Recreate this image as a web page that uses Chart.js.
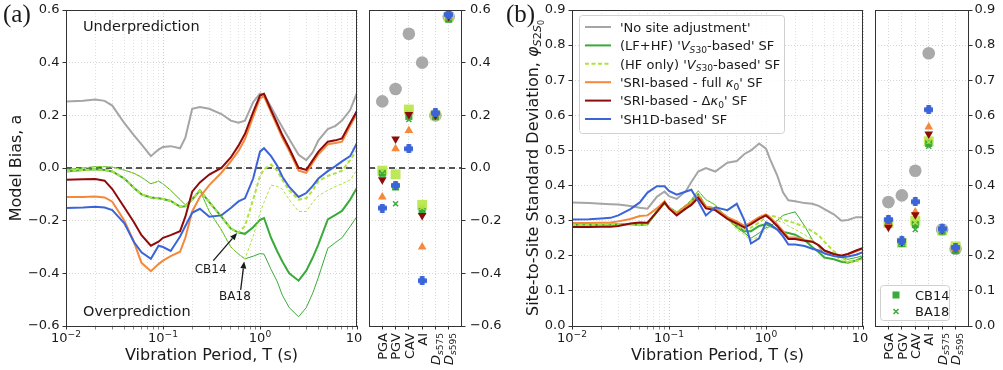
<!DOCTYPE html>
<html>
<head>
<meta charset="utf-8">
<script src="https://cdn.jsdelivr.net/npm/chart.js@4.4.1/dist/chart.umd.min.js"></script>
<style>
  html, body { margin: 0; padding: 0; background: #fff; }
  #wrap { position: relative; width: 1003px; height: 370px; overflow: hidden; }
  canvas { position: absolute; top: 0; }
</style>
</head>
<body>
<div id="wrap">
  <canvas id="biasChart" width="362" height="370" style="left:0px"></canvas>
  <canvas id="biasImChart" width="141" height="370" style="left:362px"></canvas>
  <canvas id="phiChart" width="365" height="370" style="left:503px"></canvas>
  <canvas id="phiImChart" width="135" height="370" style="left:868px"></canvas>
</div>
<script>
const FONT = '"DejaVu Sans", sans-serif';
Chart.defaults.font.family = FONT;
Chart.defaults.font.size = 13;
Chart.defaults.color = '#1a1a1a';
Chart.defaults.animation = false;

// Vibration periods (s)
const periods = [
  0.01, 0.015, 0.02, 0.025, 0.03, 0.04, 0.05, 0.06, 0.075, 0.09,
  0.1, 0.12, 0.15, 0.17, 0.2, 0.24, 0.3, 0.4, 0.5, 0.6,
  0.7, 0.85, 1.0, 1.1, 1.3, 1.5, 1.7, 2.0, 2.5, 3.0,
  3.5, 4.0, 5.0, 6.0, 7.0, 8.5, 10
];

// (a) model bias
const biasNoSite = [
  0.253, 0.255, 0.26, 0.255, 0.237, 0.17, 0.125, 0.09, 0.045, 0.07,
  0.08, 0.083, 0.075, 0.115, 0.225, 0.232, 0.225, 0.205, 0.18, 0.172,
  0.18, 0.25, 0.283, 0.28, 0.232, 0.19, 0.155, 0.11, 0.05, 0.03,
  0.06, 0.105, 0.148, 0.16, 0.18, 0.22, 0.285
];
const biasLfHfCB14 = [
  -0.013, -0.008, -0.005, -0.008, -0.013, -0.04, -0.075, -0.1, -0.112, -0.115,
  -0.118, -0.125, -0.147, -0.145, -0.12, -0.085, -0.13, -0.185, -0.23, -0.245,
  -0.25, -0.225, -0.197, -0.19, -0.265, -0.315, -0.355, -0.4, -0.428, -0.39,
  -0.34, -0.29, -0.195, -0.178, -0.163, -0.12, -0.075
];
const biasLfHfBA18 = [
  -0.006, 0.0, 0.005, 0.005, 0.003, -0.008, -0.02, -0.035, -0.06, -0.05,
  -0.06, -0.085, -0.12, -0.14, -0.115, -0.085, -0.165, -0.235, -0.3, -0.327,
  -0.345, -0.335, -0.325, -0.327, -0.385, -0.43, -0.483, -0.53, -0.565, -0.53,
  -0.475, -0.415, -0.305, -0.283, -0.265, -0.222, -0.184
];
const biasHfCB14 = [
  -0.013, -0.008, -0.005, -0.008, -0.013, -0.04, -0.075, -0.1, -0.112, -0.115,
  -0.118, -0.125, -0.147, -0.145, -0.12, -0.085, -0.13, -0.185, -0.23, -0.245,
  -0.22, -0.12, -0.03, -0.005, 0.013, -0.01, -0.045, -0.085, -0.12, -0.115,
  -0.085, -0.05, -0.03, -0.02, -0.01, 0.03, 0.07
];
const biasHfBA18 = [
  -0.006, 0.0, 0.005, 0.005, 0.003, -0.008, -0.02, -0.035, -0.06, -0.05,
  -0.06, -0.085, -0.12, -0.14, -0.115, -0.085, -0.165, -0.235, -0.3, -0.327,
  -0.345, -0.26, -0.17, -0.13, -0.065, -0.07, -0.08, -0.12, -0.165, -0.165,
  -0.13, -0.105, -0.085, -0.07, -0.06, -0.045, -0.007
];
const biasSriFull = [
  -0.11, -0.11, -0.108, -0.112, -0.128, -0.2, -0.28, -0.36, -0.392, -0.365,
  -0.352, -0.335, -0.318, -0.265, -0.165, -0.11, -0.065, -0.018, 0.025, 0.065,
  0.11, 0.195, 0.265, 0.272, 0.212, 0.16, 0.115, 0.065, -0.01, -0.018,
  0.02, 0.052, 0.09, 0.095, 0.1, 0.16, 0.207
];
const biasSriDk = [
  -0.045, -0.043, -0.042, -0.048, -0.08, -0.15, -0.205, -0.255, -0.295, -0.28,
  -0.265, -0.255, -0.24, -0.185, -0.09, -0.055, -0.025, 0.0, 0.04, 0.085,
  0.13, 0.212, 0.275, 0.282, 0.22, 0.17, 0.125, 0.075, 0.0, -0.007,
  0.03, 0.062, 0.1, 0.105, 0.112, 0.17, 0.217
];
const biasSh1d = [
  -0.152, -0.15, -0.147, -0.15, -0.16, -0.21, -0.28, -0.32, -0.345, -0.295,
  -0.3, -0.315, -0.26, -0.22, -0.17, -0.155, -0.185, -0.18, -0.152, -0.127,
  -0.115, -0.04, 0.062, 0.075, 0.045, 0.01, -0.033, -0.072, -0.11, -0.095,
  -0.068, -0.04, -0.012, 0.007, 0.025, 0.045, 0.095
];

// (b) site-to-site standard deviation
const phiNoSite = [
  0.352, 0.35, 0.348, 0.347, 0.346, 0.342, 0.337, 0.334, 0.368, 0.383,
  0.37, 0.362, 0.385, 0.41, 0.44, 0.45, 0.44, 0.465, 0.47, 0.49,
  0.5, 0.52, 0.505, 0.475, 0.43, 0.38, 0.358, 0.355, 0.35, 0.348,
  0.342, 0.333, 0.318, 0.3, 0.302, 0.31, 0.31
];
const phiLfHfCB14 = [
  0.288, 0.288, 0.288, 0.289, 0.29, 0.29, 0.288, 0.29, 0.325, 0.35,
  0.335, 0.318, 0.34, 0.355, 0.375, 0.34, 0.335, 0.31, 0.285, 0.27,
  0.27, 0.285, 0.29, 0.285, 0.275, 0.268, 0.265, 0.26, 0.245, 0.225,
  0.21, 0.195, 0.19, 0.183, 0.18, 0.187, 0.195
];
const phiLfHfBA18 = [
  0.287, 0.287, 0.287, 0.288, 0.29, 0.29, 0.29, 0.292, 0.33, 0.352,
  0.34, 0.325, 0.345, 0.36, 0.385, 0.36, 0.345, 0.305, 0.28, 0.265,
  0.25, 0.265, 0.28, 0.283, 0.3, 0.315, 0.32, 0.325, 0.285, 0.246,
  0.225, 0.205, 0.2, 0.195, 0.19, 0.195, 0.2
];
const phiHfCB14 = [
  0.288, 0.288, 0.288, 0.289, 0.29, 0.29, 0.288, 0.29, 0.325, 0.35,
  0.335, 0.318, 0.34, 0.355, 0.375, 0.34, 0.335, 0.31, 0.285, 0.275,
  0.28, 0.295, 0.31, 0.315, 0.31, 0.303, 0.298, 0.293, 0.282, 0.27,
  0.258, 0.24, 0.213, 0.195, 0.184, 0.185, 0.19
];
const phiHfBA18 = [
  0.287, 0.287, 0.287, 0.288, 0.29, 0.29, 0.29, 0.292, 0.33, 0.352,
  0.34, 0.325, 0.345, 0.36, 0.385, 0.36, 0.345, 0.305, 0.275, 0.26,
  0.245, 0.255, 0.275, 0.285, 0.3, 0.295, 0.285, 0.275, 0.26, 0.245,
  0.23, 0.215, 0.2, 0.187, 0.18, 0.183, 0.19
];
const phiSriFull = [
  0.293, 0.293, 0.294, 0.295, 0.298, 0.305, 0.313, 0.315, 0.335, 0.355,
  0.335, 0.32, 0.343, 0.35, 0.37, 0.34, 0.335, 0.31, 0.298, 0.285,
  0.295, 0.31, 0.318, 0.31, 0.29, 0.27, 0.252, 0.252, 0.245, 0.24,
  0.23, 0.215, 0.205, 0.2, 0.205, 0.213, 0.22
];
const phiSriDk = [
  0.282, 0.282, 0.283, 0.283, 0.285, 0.292, 0.295, 0.294, 0.325, 0.352,
  0.335, 0.315, 0.335, 0.345, 0.365, 0.335, 0.33, 0.305, 0.292, 0.28,
  0.29, 0.305, 0.315, 0.305, 0.285, 0.265, 0.248, 0.248, 0.243, 0.24,
  0.23, 0.215, 0.205, 0.2, 0.205, 0.215, 0.222
];
const phiSh1d = [
  0.303, 0.304, 0.306, 0.308, 0.315, 0.333, 0.352, 0.38, 0.398, 0.398,
  0.385, 0.374, 0.383, 0.388, 0.355, 0.315, 0.338, 0.33, 0.348, 0.3,
  0.235, 0.25, 0.295, 0.29, 0.275, 0.255, 0.232, 0.232, 0.228, 0.22,
  0.215, 0.207, 0.199, 0.196, 0.198, 0.203, 0.21
];

// Intensity measures (side panels)
const imNames = ['PGA', 'PGV', 'CAV', 'AI', 'Ds575', 'Ds595'];
const imBiasNoSite   = [0.253, 0.30, 0.51, 0.40, 0.2, 0.575];
const imBiasLfHfCB14 = [-0.02, -0.072, 0.196, -0.165, 0.196, 0.565];
const imBiasLfHfBA18 = [-0.022, -0.136, 0.184, -0.17, 0.198, 0.567];
const imBiasHfCB14   = [-0.01, -0.024, 0.222, -0.14, 0.2, 0.574];
const imBiasHfBA18   = [-0.012, -0.07, 0.21, -0.15, 0.2, 0.574];
const imBiasSriFull  = [-0.11, 0.073, 0.142, -0.30, 0.205, 0.572];
const imBiasSriDk    = [-0.045, 0.11, 0.203, -0.18, 0.2, 0.575];
const imBiasSh1d     = [-0.152, -0.066, 0.073, -0.428, 0.209, 0.583];

const imPhiNoSite   = [0.353, 0.372, 0.442, 0.777, 0.275, 0.22];
const imPhiLfHfCB14 = [0.29, 0.235, 0.289, 0.52, 0.27, 0.215];
const imPhiLfHfBA18 = [0.29, 0.237, 0.275, 0.512, 0.272, 0.217];
const imPhiHfCB14   = [0.294, 0.237, 0.3, 0.526, 0.272, 0.227];
const imPhiHfBA18   = [0.293, 0.236, 0.295, 0.524, 0.272, 0.225];
const imPhiSriFull  = [0.29, 0.246, 0.325, 0.567, 0.275, 0.22];
const imPhiSriDk    = [0.281, 0.24, 0.317, 0.547, 0.275, 0.222];
const imPhiSh1d     = [0.303, 0.243, 0.354, 0.616, 0.277, 0.223];

// Axis ticks
const periodTicks = [0.01, 0.1, 1, 10];
const periodTickExp = ['\u22122', '\u22121', '0', '1'];

// Colours
const GREY = '#a5a5a5';
const GREEN = '#3aaa3a';
const LIME = '#aee23c';
const ORANGE = '#f5883a';
const DKRED = '#8e0b0b';
const BLUE = '#3c64d9';
const INK = '#1a1a1a';
const FRAME = '#333333';

// ---------- rich text helpers (italic / subscripts) ----------
function richFont(s, size) {
  const sz = s.sub2 ? size * 0.5 : (s.sub || s.sup) ? size * 0.7 : size;
  return (s.it ? 'italic ' : '') + sz.toFixed(1) + 'px ' + FONT;
}
function richShift(s, size) {
  if (s.sub2) return size * 0.4;
  if (s.sub) return size * 0.2;
  if (s.sup) return -size * 0.42;
  return 0;
}
function richWidth(ctx, segs, size) {
  let w = 0;
  segs.forEach(s => { ctx.font = richFont(s, size); w += ctx.measureText(s.t).width; });
  return w;
}
function drawRich(ctx, segs, x, y, size, align, color) {
  const w = richWidth(ctx, segs, size);
  let cx = align === 'center' ? x - w / 2 : align === 'right' ? x - w : x;
  ctx.fillStyle = color || INK;
  ctx.textAlign = 'left';
  ctx.textBaseline = 'alphabetic';
  segs.forEach(s => {
    ctx.font = richFont(s, size);
    ctx.fillText(s.t, cx, y + richShift(s, size));
    cx += ctx.measureText(s.t).width;
  });
}
function drawRichUp(ctx, segs, x, y, size, align) {
  ctx.save();
  ctx.translate(x, y);
  ctx.rotate(-Math.PI / 2);
  drawRich(ctx, segs, 0, 0, size, align);
  ctx.restore();
}
function imSegs(name) {
  if (name.startsWith('Ds')) {
    return [{ t: 'D', it: 1 }, { t: 's', it: 1, sub: 1 }, { t: name.slice(2), sub: 1 }];
  }
  return [{ t: name }];
}

// ---------- markers ----------
function plusMarker(color, s) {
  const c = document.createElement('canvas');
  c.width = c.height = s;
  const g = c.getContext('2d');
  g.fillStyle = color;
  const a = s * 0.5;
  g.beginPath();
  g.arc(s / 2, s / 2, s * 0.38, 0, Math.PI * 2);
  g.fill();
  g.fillRect((s - a) / 2, 0, a, s);
  g.fillRect(0, (s - a) / 2, s, a);
  return c;
}
const bluePlus = plusMarker(BLUE, 9);

// ---------- datasets ----------
function lineSet(values, color, width, dash) {
  return {
    type: 'line',
    data: periods.map((p, i) => ({ x: p, y: values[i] })),
    borderColor: color,
    borderWidth: width,
    borderDash: dash || [],
    pointRadius: 0,
    tension: 0,
    fill: false
  };
}
function markSet(values, style, color, r, extra) {
  return Object.assign({
    type: 'scatter',
    data: imNames.map((n, i) => ({ x: i, y: values[i] })),
    pointStyle: style,
    pointRadius: r,
    backgroundColor: color,
    borderColor: color,
    borderWidth: 0
  }, extra || {});
}
// first listed is drawn first (bottom)
function stackOrder(sets) {
  sets.forEach((d, i) => { d.order = sets.length - i; });
  return sets;
}

function curveSets(v) {
  return stackOrder([
    lineSet(v.noSite, GREY, 2),
    lineSet(v.lfhfCB14, GREEN, 2),
    lineSet(v.lfhfBA18, GREEN, 1),
    lineSet(v.hfCB14, LIME, 2, [4, 2.5]),
    lineSet(v.hfBA18, LIME, 1, [3, 2]),
    lineSet(v.sriFull, ORANGE, 2),
    lineSet(v.sriDk, DKRED, 2),
    lineSet(v.sh1d, BLUE, 2)
  ]);
}
function markerSets(v) {
  return stackOrder([
    markSet(v.noSite, 'circle', '#a9a9a9', 6.3),
    markSet(v.hfCB14, 'rect', '#bde85a', 7),
    markSet(v.lfhfCB14, 'rect', GREEN, 5),
    markSet(v.hfBA18, 'crossRot', LIME, 3.5, { borderWidth: 1.5 }),
    markSet(v.lfhfBA18, 'crossRot', GREEN, 3.5, { borderWidth: 1.5 }),
    markSet(v.sriFull, 'triangle', ORANGE, 5),
    markSet(v.sriDk, 'triangle', DKRED, 5, { rotation: 180 }),
    markSet(v.sh1d, bluePlus, BLUE, 5)
  ]);
}

// ---------- axes ----------
function isDecade(v) {
  const l = Math.log10(v);
  return Math.abs(l - Math.round(l)) < 1e-6;
}
function fmtTick(v) {
  const x = Math.abs(v) < 1e-9 ? 0 : v;
  return x.toFixed(1).replace('-', '\u2212');
}
function periodAxis() {
  return {
    type: 'logarithmic',
    min: periodTicks[0],
    max: periodTicks[periodTicks.length - 1],
    afterBuildTicks: s => {
      const t = [];
      for (let d = 0; d < periodTicks.length - 1; d++) {
        for (let m = 1; m <= 9; m++) t.push({ value: m * periodTicks[d] });
      }
      t.push({ value: periodTicks[periodTicks.length - 1] });
      s.ticks = t;
    },
    afterFit: s => { s.height = 44; s.paddingLeft = 0; s.paddingRight = 0; },
    ticks: { display: false },
    grid: {
      color: c => (c.tick && isDecade(c.tick.value)) ? '#cccccc' : '#e2e2e2',
      tickColor: FRAME,
      tickLength: 3.5,
      tickWidth: c => (c.tick && isDecade(c.tick.value)) ? 1 : 0.6
    },
    border: { display: false, dash: [1, 2] }
  };
}
function imAxis() {
  return {
    type: 'linear',
    min: -1,
    max: imNames.length,
    afterBuildTicks: s => { s.ticks = imNames.map((n, i) => ({ value: i })); },
    afterFit: s => { s.height = 44; s.paddingLeft = 0; s.paddingRight = 0; },
    ticks: { display: false },
    grid: { color: '#d6d6d6', tickColor: FRAME, tickLength: 3.5 },
    border: { display: false, dash: [1, 2] }
  };
}
function valueAxis(min, max, step, position, width, pad) {
  return {
    type: 'linear',
    position: position,
    min: min,
    max: max,
    afterFit: s => { s.width = width; s.paddingTop = 0; s.paddingBottom = 0; },
    ticks: { stepSize: step, padding: pad, callback: v => fmtTick(v), font: { size: 13 }, color: INK },
    grid: { color: '#d6d6d6', tickColor: FRAME, tickLength: 3.5 },
    border: { display: false, dash: [1, 2] }
  };
}

// ---------- plugins ----------
const framePlugin = {
  id: 'frame',
  afterDatasetsDraw(chart) {
    const { ctx, chartArea: a } = chart;
    ctx.save();
    ctx.strokeStyle = FRAME;
    ctx.lineWidth = 1;
    const l = Math.round(a.left) + 0.5, t = Math.round(a.top) + 0.5;
    ctx.strokeRect(l, t, Math.round(a.right) - Math.round(a.left) - 1, Math.round(a.bottom) - Math.round(a.top));
    ctx.restore();
  }
};
function zeroLine(color, width, dash) {
  return {
    id: 'zeroLine',
    beforeDatasetsDraw(chart) {
      const { ctx, chartArea: a, scales } = chart;
      const y = scales.y.getPixelForValue(0);
      ctx.save();
      ctx.strokeStyle = color;
      ctx.lineWidth = width;
      ctx.setLineDash(dash);
      ctx.beginPath();
      ctx.moveTo(a.left, y);
      ctx.lineTo(a.right, y);
      ctx.stroke();
      ctx.restore();
    }
  };
}
const periodLabels = {
  id: 'periodLabels',
  afterDraw(chart) {
    const { ctx, chartArea: a, scales } = chart;
    periodTicks.forEach((v, i) => {
      const x = scales.x.getPixelForValue(v);
      const segs = [{ t: '10' }, { t: periodTickExp[i], sup: 1 }];
      drawRich(ctx, segs, x, a.bottom + 16, 13, 'center');
    });
    drawRich(ctx, [{ t: 'Vibration Period, T (s)' }], (a.left + a.right) / 2, a.bottom + 34, 16, 'center');
  }
};
const imLabels = {
  id: 'imLabels',
  afterDraw(chart) {
    const { ctx, chartArea: a, scales } = chart;
    imNames.forEach((n, i) => {
      const x = scales.x.getPixelForValue(i);
      drawRichUp(ctx, imSegs(n), x + 4.7, a.bottom + 7, 13, 'right');
    });
  }
};
function panelText(letter, yTitle, yTitleX) {
  return {
    id: 'panelText',
    afterDraw(chart) {
      const { ctx, chartArea: a } = chart;
      ctx.save();
      ctx.fillStyle = INK;
      ctx.font = '25px "Liberation Serif", serif';
      ctx.textAlign = 'left';
      ctx.textBaseline = 'middle';
      ctx.fillText(letter, 3, 15);
      ctx.restore();
      drawRichUp(ctx, yTitle, yTitleX, (a.top + a.bottom) / 2, 16, 'center');
    }
  };
}

// annotations on panel (a), in data coordinates
const notes = [
  { label: 'CB14', text: [0.31, -0.387], tail: [0.33, -0.352], tip: [0.58, -0.247] },
  { label: 'BA18', text: [0.552, -0.488], tail: [0.632, -0.463], tip: [0.687, -0.355] }
];
const biasNotes = {
  id: 'biasNotes',
  afterDatasetsDraw(chart) {
    const { ctx, chartArea: a, scales } = chart;
    const px = p => [scales.x.getPixelForValue(p[0]), scales.y.getPixelForValue(p[1])];
    ctx.save();
    ctx.fillStyle = INK;
    ctx.font = '14.5px ' + FONT;
    ctx.textAlign = 'left';
    ctx.textBaseline = 'middle';
    ctx.fillText('Underprediction', a.left + 17, a.top + 17);
    ctx.fillText('Overprediction', a.left + 17, a.bottom - 14);
    notes.forEach(n => {
      const [tx, ty] = px(n.text);
      ctx.font = '12px ' + FONT;
      ctx.textAlign = 'center';
      ctx.fillText(n.label, tx, ty);
      const [x0, y0] = px(n.tail);
      const [x1, y1] = px(n.tip);
      const ang = Math.atan2(y1 - y0, x1 - x0);
      const hl = 7, hw = 3;
      const bx = x1 - hl * Math.cos(ang), by = y1 - hl * Math.sin(ang);
      ctx.strokeStyle = INK;
      ctx.lineWidth = 1.3;
      ctx.beginPath();
      ctx.moveTo(x0, y0);
      ctx.lineTo(bx, by);
      ctx.stroke();
      ctx.beginPath();
      ctx.moveTo(x1, y1);
      ctx.lineTo(bx + hw * Math.sin(ang), by - hw * Math.cos(ang));
      ctx.lineTo(bx - hw * Math.sin(ang), by + hw * Math.cos(ang));
      ctx.closePath();
      ctx.fill();
    });
    ctx.restore();
  }
};

function roundRect(ctx, x, y, w, h, r) {
  ctx.beginPath();
  ctx.moveTo(x + r, y);
  ctx.arcTo(x + w, y, x + w, y + h, r);
  ctx.arcTo(x + w, y + h, x, y + h, r);
  ctx.arcTo(x, y + h, x, y, r);
  ctx.arcTo(x, y, x + w, y, r);
  ctx.closePath();
}

const legendEntries = [
  { color: GREY, width: 2, dash: [], segs: [{ t: "'No site adjustment'" }] },
  { color: GREEN, width: 2, dash: [], segs: [{ t: "(LF+HF) '" }, { t: 'V', it: 1 }, { t: 'S', it: 1, sub: 1 }, { t: '30', sub: 1 }, { t: "-based' SF" }] },
  { color: LIME, width: 2, dash: [4, 2.5], segs: [{ t: "(HF only) '" }, { t: 'V', it: 1 }, { t: 'S', it: 1, sub: 1 }, { t: '30', sub: 1 }, { t: "-based' SF" }] },
  { color: ORANGE, width: 2, dash: [], segs: [{ t: "'SRI-based - full " }, { t: '\u03ba', it: 1 }, { t: '0', sub: 1 }, { t: "' SF" }] },
  { color: DKRED, width: 2, dash: [], segs: [{ t: "'SRI-based - \u0394" }, { t: '\u03ba', it: 1 }, { t: '0', sub: 1 }, { t: "' SF" }] },
  { color: BLUE, width: 2, dash: [], segs: [{ t: "'SH1D-based' SF" }] }
];
const phiLegend = {
  id: 'phiLegend',
  afterDraw(chart) {
    const { ctx, chartArea: a } = chart;
    const x0 = a.left + 7, y0 = a.top + 5;
    ctx.save();
    roundRect(ctx, x0 + 0.5, y0 + 0.5, 205, 118, 3);
    ctx.fillStyle = 'rgba(255,255,255,0.85)';
    ctx.fill();
    ctx.strokeStyle = '#d0d0d0';
    ctx.lineWidth = 1;
    ctx.stroke();
    legendEntries.forEach((e, i) => {
      const cy = y0 + 12 + i * 18.4;
      ctx.strokeStyle = e.color;
      ctx.lineWidth = e.width;
      ctx.setLineDash(e.dash);
      ctx.beginPath();
      ctx.moveTo(x0 + 6, cy);
      ctx.lineTo(x0 + 32, cy);
      ctx.stroke();
      ctx.setLineDash([]);
      drawRich(ctx, e.segs, x0 + 41, cy + 4.7, 13, 'left');
    });
    ctx.restore();
  }
};
const imLegend = {
  id: 'imLegend',
  afterDraw(chart) {
    const { ctx, chartArea: a } = chart;
    const x0 = a.left + 5, y1 = a.bottom - 6, y0 = y1 - 35;
    ctx.save();
    roundRect(ctx, x0 + 0.5, y0 + 0.5, 69, 35, 3);
    ctx.fillStyle = 'rgba(255,255,255,0.85)';
    ctx.fill();
    ctx.strokeStyle = '#d0d0d0';
    ctx.lineWidth = 1;
    ctx.stroke();
    const r1 = y0 + 10, r2 = y0 + 26.5, mx = x0 + 16;
    ctx.fillStyle = GREEN;
    ctx.fillRect(mx - 3.5, r1 - 3.5, 7, 7);
    ctx.strokeStyle = GREEN;
    ctx.lineWidth = 1.5;
    ctx.beginPath();
    ctx.moveTo(mx - 2.5, r2 - 2.5); ctx.lineTo(mx + 2.5, r2 + 2.5);
    ctx.moveTo(mx - 2.5, r2 + 2.5); ctx.lineTo(mx + 2.5, r2 - 2.5);
    ctx.stroke();
    drawRich(ctx, [{ t: 'CB14' }], x0 + 35, r1 + 4.7, 13, 'left');
    drawRich(ctx, [{ t: 'BA18' }], x0 + 35, r2 + 4.7, 13, 'left');
    ctx.restore();
  }
};

const baseOptions = (scales, padding) => ({
  responsive: false,
  animation: false,
  events: [],
  layout: { padding: padding },
  plugins: { legend: { display: false }, tooltip: { enabled: false } },
  scales: scales
});

// ---------- (a) model bias ----------
new Chart(document.getElementById('biasChart'), {
  type: 'line',
  data: {
    datasets: curveSets({
      noSite: biasNoSite, lfhfCB14: biasLfHfCB14, lfhfBA18: biasLfHfBA18,
      hfCB14: biasHfCB14, hfBA18: biasHfBA18, sriFull: biasSriFull, sriDk: biasSriDk, sh1d: biasSh1d
    })
  },
  options: baseOptions({
    x: periodAxis(),
    y: valueAxis(-0.6, 0.6, 0.2, 'left', 66, 3)
  }, { top: 10, right: 5, left: 0, bottom: 0 }),
  plugins: [zeroLine('#222', 1.5, [6, 4]), framePlugin, periodLabels, biasNotes,
    panelText('(a)', [{ t: 'Model Bias, a' }], 21)]
});

new Chart(document.getElementById('biasImChart'), {
  type: 'scatter',
  data: {
    datasets: markerSets({
      noSite: imBiasNoSite, lfhfCB14: imBiasLfHfCB14, lfhfBA18: imBiasLfHfBA18,
      hfCB14: imBiasHfCB14, hfBA18: imBiasHfBA18, sriFull: imBiasSriFull, sriDk: imBiasSriDk, sh1d: imBiasSh1d
    })
  },
  options: baseOptions({
    x: imAxis(),
    y: valueAxis(-0.6, 0.6, 0.2, 'right', 41, 4.5)
  }, { top: 10, right: 0, left: 4, bottom: 0 }),
  plugins: [zeroLine('#555', 2, [6, 4]), framePlugin, imLabels]
});

// ---------- (b) site-to-site standard deviation ----------
new Chart(document.getElementById('phiChart'), {
  type: 'line',
  data: {
    datasets: curveSets({
      noSite: phiNoSite, lfhfCB14: phiLfHfCB14, lfhfBA18: phiLfHfBA18,
      hfCB14: phiHfCB14, hfBA18: phiHfBA18, sriFull: phiSriFull, sriDk: phiSriDk, sh1d: phiSh1d
    })
  },
  options: baseOptions({
    x: periodAxis(),
    y: valueAxis(0, 0.9, 0.1, 'left', 69, 3)
  }, { top: 10, right: 5, left: 0, bottom: 0 }),
  plugins: [framePlugin, periodLabels, phiLegend,
    panelText('(b)', [{ t: 'Site-to-Site Standard Deviation, ' }, { t: '\u03c6', it: 1 },
      { t: 'S', it: 1, sub: 1 }, { t: '2', sub: 1 }, { t: 'S', it: 1, sub: 1 }, { t: '0', sub2: 1 }], 35)]
});

new Chart(document.getElementById('phiImChart'), {
  type: 'scatter',
  data: {
    datasets: markerSets({
      noSite: imPhiNoSite, lfhfCB14: imPhiLfHfCB14, lfhfBA18: imPhiLfHfBA18,
      hfCB14: imPhiHfCB14, hfBA18: imPhiHfBA18, sriFull: imPhiSriFull, sriDk: imPhiSriDk, sh1d: imPhiSh1d
    })
  },
  options: baseOptions({
    x: imAxis(),
    y: valueAxis(0, 0.9, 0.1, 'right', 34, 2)
  }, { top: 10, right: 0, left: 5, bottom: 0 }),
  plugins: [framePlugin, imLabels, imLegend]
});
</script>
</body>
</html>
